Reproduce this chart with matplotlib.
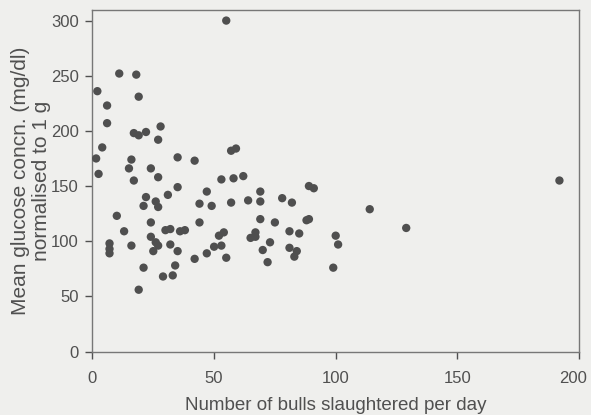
import matplotlib.pyplot as plt
from matplotlib.transforms import ScaledTranslation

# bulls slaughtered per day vs mean glucose concentration
bulls_per_day = [2, 11, 18, 19, 6, 6, 17, 19, 22, 28,
                 27, 4, 1.5, 16, 35, 2.5, 15, 24, 27, 17,
                 35, 22, 26, 27, 31, 21, 10, 24, 13, 30,
                 32, 36, 38, 24, 26, 27, 25, 7, 7, 7,
                 16, 32, 35, 21, 34, 29, 33, 19, 55, 57,
                 59, 42, 53, 58, 62, 47, 69, 44, 49, 57,
                 64, 69, 69, 44, 52, 54, 67, 65, 67, 73,
                 50, 53, 47, 42, 55, 70, 72, 89, 91, 78,
                 82, 75, 88, 89, 81, 85, 100, 101, 81, 84,
                 83, 99, 114, 129, 192]
glucose = [236, 252, 251, 231, 223, 207, 198, 196, 199, 204,
           192, 185, 175, 174, 176, 161, 166, 166, 158, 155,
           149, 140, 136, 131, 142, 132, 123, 117, 109, 110,
           111, 109, 110, 104, 99, 96, 91, 98, 93, 89,
           96, 97, 91, 76, 78, 68, 69, 56, 300, 182,
           184, 173, 156, 157, 159, 145, 145, 134, 132, 135,
           137, 136, 120, 117, 105, 108, 108, 103, 104, 99,
           95, 96, 89, 84, 85, 92, 81, 150, 148, 139,
           135, 117, 119, 120, 109, 107, 105, 97, 94, 91,
           86, 76, 129, 112, 155]

x_ticks = [0, 50, 100, 150, 200]
y_ticks = [0, 50, 100, 150, 200, 250, 300]

bg = '#efefed'
ink = '#505050'

plt.rcParams['font.family'] = ['Liberation Sans', 'DejaVu Sans']

fig = plt.figure(figsize=(5.91, 4.15), dpi=100, facecolor=bg)
ax = fig.add_axes([0.1565, 0.153, 0.823, 0.824], facecolor=bg)

ax.scatter(bulls_per_day, glucose, s=36, color='#4f4f4f', edgecolors='none', zorder=3)

ax.set_xlim(0, 200)
ax.set_ylim(0, 310)
ax.set_xticks(x_ticks)
ax.set_yticks(y_ticks)
ax.tick_params(direction='out', length=5, width=1, colors=ink, labelsize=12)
ax.tick_params(axis='y', pad=5)
ax.tick_params(axis='x', pad=9)
for side in ax.spines.values():
    side.set_color('#777777')
    side.set_linewidth(1)

# "200" sits right on the figure edge - shift it left a few pixels
last = ax.get_xticklabels()[-1]
last.set_transform(last.get_transform() + ScaledTranslation(-4 / 72, 0, fig.dpi_scale_trans))

ax.set_xlabel('Number of bulls slaughtered per day', fontsize=13.5, color=ink, labelpad=8)
ax.set_ylabel('Mean glucose concn. (mg/dl)\nnormalised to 1 g', fontsize=15, color=ink,
              labelpad=0, linespacing=1.1)

fig.savefig('out.png', dpi=100, facecolor=bg)
